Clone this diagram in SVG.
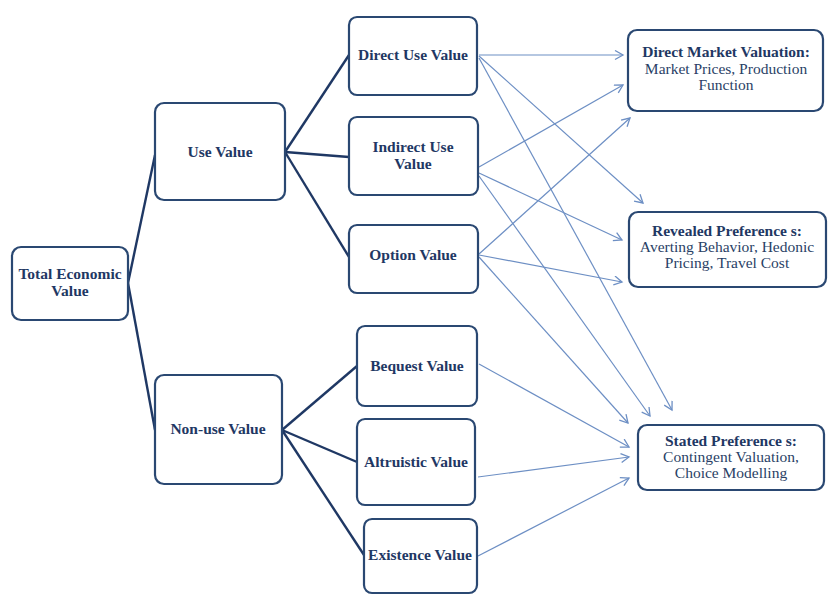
<svg xmlns="http://www.w3.org/2000/svg" width="834" height="595" viewBox="0 0 834 595">
<defs>
<style>
.box{fill:#fff;stroke:#2a4872;stroke-width:2.2}
.t{font-family:"Liberation Serif",serif;font-size:15.5px;font-weight:bold;fill:#1f3864;text-anchor:middle}
.r{font-family:"Liberation Serif",serif;font-size:15.5px;fill:#2a3f66;text-anchor:middle}
.tree line{stroke:#1f3864;stroke-width:2.4;fill:none}
.arr line{stroke:#6d8fc4;stroke-width:1.2;fill:none;marker-end:url(#ah)}
</style>
<marker id="ah" markerUnits="userSpaceOnUse" markerWidth="12" markerHeight="12" refX="9" refY="5" orient="auto">
<path d="M1,0.5 L9,5 L1,9.5" fill="none" stroke="#6d8fc4" stroke-width="1.3"/>
</marker>
</defs>
<rect width="834" height="595" fill="#fff"/>
<g id="connectors">
<g class="tree">
<line x1="128" y1="283" x2="155" y2="155"/>
<line x1="128" y1="283" x2="155" y2="430"/>
<line x1="285" y1="152" x2="349" y2="55"/>
<line x1="285" y1="152" x2="349" y2="157"/>
<line x1="285" y1="152" x2="349" y2="257"/>
<line x1="282" y1="430" x2="357" y2="366"/>
<line x1="282" y1="430" x2="357" y2="462"/>
<line x1="282" y1="430" x2="364" y2="555"/>
</g>
<g class="arr">
<line x1="479" y1="55" x2="623" y2="55"/>
<line x1="479" y1="56" x2="643" y2="203"/>
<line x1="479" y1="58" x2="672" y2="410"/>
<line x1="479" y1="167" x2="623" y2="85"/>
<line x1="479" y1="173" x2="622" y2="240"/>
<line x1="479" y1="176" x2="650" y2="416"/>
<line x1="479" y1="254" x2="630" y2="118"/>
<line x1="479" y1="255" x2="622" y2="282"/>
<line x1="479" y1="257" x2="628" y2="423"/>
<line x1="479" y1="364" x2="629" y2="447"/>
<line x1="478" y1="477" x2="629" y2="457"/>
<line x1="478" y1="556" x2="629" y2="478"/>
</g>
</g>
<g id="tev"><rect class="box" x="12" y="247" width="116" height="73" rx="9"/><text class="t" x="70" y="279">Total Economic</text><text class="t" x="70" y="296">Value</text></g>
<g id="use"><rect class="box" x="155" y="103" width="130" height="97" rx="9"/><text class="t" x="220" y="157">Use Value</text></g>
<g id="nonuse"><rect class="box" x="155" y="375" width="127" height="109" rx="9"/><text class="t" x="218" y="434">Non-use Value</text></g>
<g id="direct"><rect class="box" x="349" y="17" width="128" height="78" rx="8"/><text class="t" x="413" y="60">Direct Use Value</text></g>
<g id="indirect"><rect class="box" x="349" y="117" width="129" height="78" rx="8"/><text class="t" x="413" y="152">Indirect Use</text><text class="t" x="413" y="169">Value</text></g>
<g id="option"><rect class="box" x="349" y="225" width="129" height="68" rx="8"/><text class="t" x="413" y="260">Option Value</text></g>
<g id="bequest"><rect class="box" x="357" y="326" width="120" height="80" rx="8"/><text class="t" x="417" y="371">Bequest Value</text></g>
<g id="altruistic"><rect class="box" x="357" y="419" width="118" height="86" rx="8"/><text class="t" x="416" y="467">Altruistic Value</text></g>
<g id="existence"><rect class="box" x="364" y="519" width="113" height="74" rx="8"/><text class="t" x="420" y="560">Existence Value</text></g>
<g id="dmv"><rect class="box" x="628" y="30" width="195" height="81" rx="9"/><text class="t" x="726" y="57">Direct Market Valuation:</text><text class="r" x="726" y="74">Market Prices, Production</text><text class="r" x="726" y="90">Function</text></g>
<g id="revealed"><rect class="box" x="629" y="212" width="197" height="75" rx="9"/><text class="t" x="727" y="236">Revealed Preference s:</text><text class="r" x="727" y="252">Averting Behavior, Hedonic</text><text class="r" x="727" y="268">Pricing, Travel Cost</text></g>
<g id="stated"><rect class="box" x="638" y="425" width="186" height="65" rx="9"/><text class="t" x="731" y="446">Stated Preference s:</text><text class="r" x="731" y="462">Contingent Valuation,</text><text class="r" x="731" y="478">Choice Modelling</text></g>
</svg>
